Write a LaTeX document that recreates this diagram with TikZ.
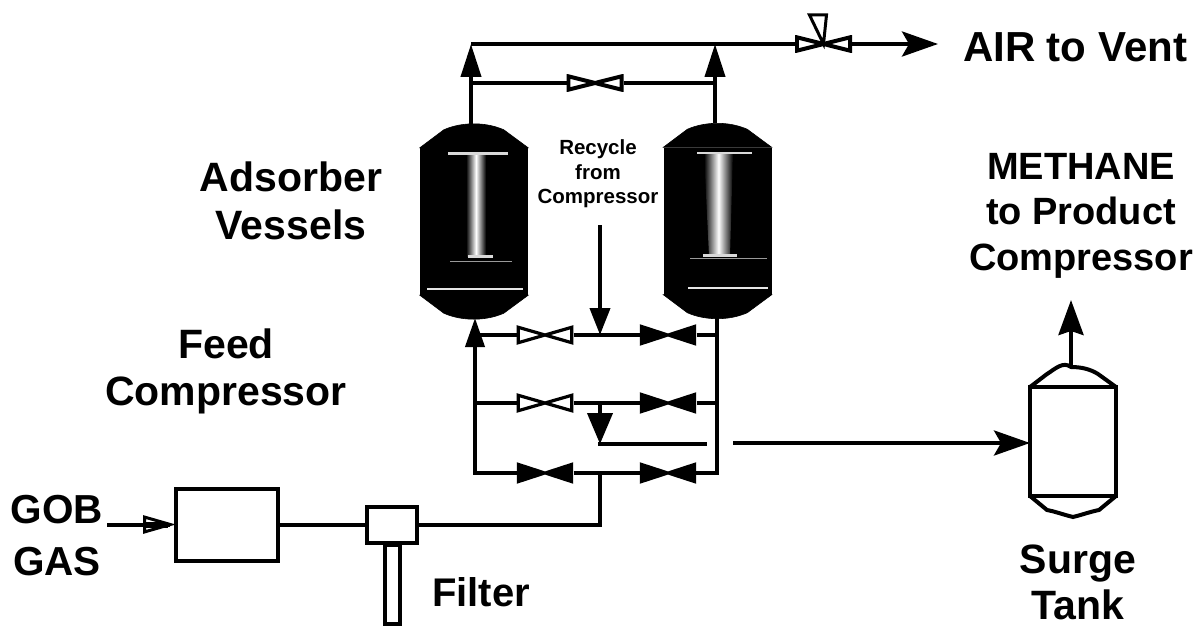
\documentclass[tikz,border=0pt]{standalone}
\usepackage{fontspec}
\setmainfont{Liberation Sans}
\usetikzlibrary{positioning, arrows.meta, calc}
\tikzset{
	pipe/.style={line width=4pt},
	stemtip/.style={pipe, -{Triangle[length=33pt, width=20pt]}},
	linetip/.style={pipe, -{Stealth[length=36pt, width=25pt, inset=7pt]}},
	title/.style={font=\bfseries\fontsize{41}{47.5}\selectfont, align=center, inner sep=0pt},
	smalltitle/.style={font=\bfseries\fontsize{20.5}{24.5}\selectfont, align=center, inner sep=0pt},
	box/.style={draw, line width=4pt, inner sep=0pt, outer sep=0pt},
	vesselbody/.style={fill=black, minimum width=108pt, minimum height=147pt, inner sep=0pt},
	tankbody/.style={box, minimum width=86pt, minimum height=109pt},
	bowtie/.style={inner sep=0pt, outer sep=0pt, minimum width=57pt, minimum height=19pt,
		path picture={\draw[line width=#1pt, fill=\valvefill]
			($(path picture bounding box.north west)+(1.8,1.8)$) --
			($(path picture bounding box.south east)+(-1.8,-1.8)$) --
			($(path picture bounding box.north east)+(-1.8,1.8)$) --
			($(path picture bounding box.south west)+(1.8,-1.8)$) -- cycle;}},
	openvalve/.style={bowtie=3.2},
	shutvalve/.style={bowtie=3, /utils/exec={\def\valvefill{black}}},
	smallvalve/.style={bowtie=4, minimum height=17pt},
}
\def\valvefill{white}
\begin{document}
\begin{tikzpicture}[x=1pt, y=-1pt]
	\useasboundingbox (0,0) rectangle (1197,626);
	% vessels
	\node[vesselbody] (vesL) at (474,221.5) {};
	\node[vesselbody] (vesR) at (717.5,221) {};
	\foreach \ves in {vesL,vesR} {
		\filldraw[line width=0.6pt] (\ves.north west) -- ++(24,-18) .. controls +(18,-8) and +(-18,-8) .. ++(60,0) -- (\ves.north east) -- cycle;
		\filldraw[line width=0.6pt] (\ves.south west) -- ++(24,18) .. controls +(18,8) and +(-18,8) .. ++(60,0) -- (\ves.south east) -- cycle;
	}
	% light streaks on the vessels
	\shade[left color=black, right color=black, middle color=white] (466,153) rectangle (486,256);
	\shade[left color=black, right color=black, middle color=white] (704,153) -- (733,153) -- (730,256) -- (709,256) -- cycle;
	\fill[white!85!black] (448,152) rectangle (508,154.5);
	\fill[white!85!black] (468,255) rectangle (493,257.5);
	\fill[white!60!black] (450,260.5) rectangle (512,262);
	\fill[white!90!black] (427,287.5) rectangle (523,289.5);
	\fill[white!85!black] (697,151.5) rectangle (752,154);
	\fill[white!85!black] (703,254) rectangle (737,256.5);
	\fill[white!60!black] (690,257.5) rectangle (767,259);
	\fill[white!90!black] (688,286.5) rectangle (768,288.5);

	% top headers
	\coordinate (topL) at (471,44);
	\coordinate (topR) at (715,44);
	\coordinate (stemL) at (471,124);
	\coordinate (stemR) at (715,123);
	\coordinate (byL) at (471,83);
	\coordinate (byR) at (715,83);
	\coordinate (ventend) at (938,44);
	\node[smallvalve] (byvalve) at (595,83) {};
	\node[smallvalve] (ventvalve) at (823.5,44) {};
	\draw[stemtip] (stemL) -- (topL);
	\draw[stemtip] (stemR) -- (topR);
	\draw[pipe] (topL) -- (ventvalve.west);
	\draw[linetip] (ventvalve.east) -- (ventend);
	\draw[pipe] (byL) -- (byvalve.west);
	\draw[pipe] (byvalve.east) -- (byR);
	\draw[line width=3pt, fill=white, line join=miter] (ventvalve.center) -- ++(-14,-29) -- ++(17,0) -- cycle;

	% manifold under the vessels
	\coordinate (riseL) at (475,473);
	\coordinate (tipL) at (475,318);
	\coordinate (riseR) at (717,473);
	\coordinate (botR) at (717,316);
	\coordinate (row1L) at (475,335);
	\coordinate (row1R) at (717,335);
	\coordinate (row2L) at (475,403);
	\coordinate (row2R) at (717,403);
	\node[openvalve] (v1L) at (545,335) {};
	\node[shutvalve, minimum height=21pt] (v1R) at (668,335) {};
	\node[openvalve] (v2L) at (545,403) {};
	\node[shutvalve, minimum height=21pt] (v2R) at (668,403) {};
	\node[shutvalve, minimum height=21pt] (v3L) at (545,473) {};
	\node[shutvalve, minimum height=21pt] (v3R) at (668,473) {};
	\draw[stemtip, -{Triangle[length=29pt, width=19pt]}] (riseL) -- (tipL);
	\draw[pipe] (botR) -- (riseR);
	\draw[pipe] (row1L) -- (v1L.west);
	\draw[pipe] (v1L.east) -- (v1R.west);
	\draw[pipe] (v1R.east) -- (row1R);
	\draw[pipe] (row2L) -- (v2L.west);
	\draw[pipe] (v2L.east) -- (v2R.west);
	\draw[pipe] (v2R.east) -- (row2R);
	\draw[pipe, line cap=rect] (riseL) -- (v3L.west);
	\draw[pipe] (v3L.east) -- (v3R.west);
	\draw[pipe, line cap=rect] (v3R.east) -- (riseR);

	% recycle and product lines
	\coordinate (recin) at (600,225);
	\coordinate (recend) at (600,335);
	\coordinate (dropA) at (600,403);
	\coordinate (dropB) at (600,444);
	\coordinate (prodA) at (705,444);
	\coordinate (prodB) at (733,443);
	\draw[pipe, -{Triangle[length=27pt, width=20pt]}] (recin) -- (recend);
	\draw[pipe, -{Triangle[length=31pt, width=25pt]}] (dropA) -- (dropB);
	\draw[pipe, line cap=rect] (dropB) -- (prodA);

	% feed side
	\node[box, minimum width=102pt, minimum height=72pt] (comp) at (227,524.5) {};
	\node[box, minimum width=50pt, minimum height=36pt] (filt) at (392,524.5) {};
	\node[box, minimum width=15pt, minimum height=79pt, anchor=north] (leg) at (392.5,545) {};
	\coordinate (gob) at (107,524.5);
	\coordinate (feedA) at (600,473);
	\coordinate (feedB) at (600,524.5);
	\draw[pipe, -{Triangle[length=33pt, width=18pt, fill=white, line width=3pt]}] (gob) -- (comp.west);
	\draw[line width=6pt] ($(comp.west)+(-33,0)$) -- ($(comp.west)+(-8,0)$);
	\draw[pipe] (gob) -- ($(comp.west)+(-6,0)$);
	\draw[pipe] (comp.east) -- (filt.west);
	\draw[pipe, line join=miter] (filt.east) -- (feedB) -- (feedA);

	% surge tank
	\node[tankbody] (tank) at (1073,441.5) {};
	\draw[line width=4pt] (tank.north west) -- ++(17,-13) .. controls +(8,-5) and +(-8,-6) .. (1071,367) .. controls +(10,0) and +(-8,-5) .. ($(tank.north east)+(-18,-13)$) -- (tank.north east);
	\draw[line width=4pt] (tank.south west) -- ++(17,14) .. controls +(10,2) and +(-12,-3) .. (1073,517) .. controls +(12,-3) and +(-10,2) .. ($(tank.south east)+(-17,14)$) -- (tank.south east);
	\coordinate (tanktop) at (1071,367);
	\coordinate (tankout) at (1071,300);
	\coordinate (tankin) at (1030,443);
	\draw[pipe, -{Stealth[length=35pt, width=25pt, inset=4pt]}] (tanktop) -- (tankout);
	\draw[linetip] (prodB) -- (tankin);

	% labels
	\node[title, font=\bfseries\fontsize{42}{47}\selectfont] (airlabel) at (1075,47) {AIR to Vent};
	\node[title, font=\bfseries\fontsize{38}{45.5}\selectfont] (methlabel) at (1081,215.5) {METHANE\\to Product\\Compressor};
	\node[title] (adslabel) at (291,201) {Adsorber\\Vessels};
	\node[title] (feedlabel) at (226,371.5) {Feed\\Compressor};
	\node[smalltitle] (reclabel) at (598,174) {Recycle\\from\\Compressor};
	\node[title, font=\bfseries\fontsize{40.5}{52}\selectfont] (goblabel) at (57,536) {GOB\\GAS};
	\node[title, font=\bfseries\fontsize{40}{47}\selectfont] (filtlabel) at (481,592) {Filter};
	\node[title, font=\bfseries\fontsize{41}{46}\selectfont] (surgelabel) at (1078,582) {Surge\\Tank};
\end{tikzpicture}
\end{document}
